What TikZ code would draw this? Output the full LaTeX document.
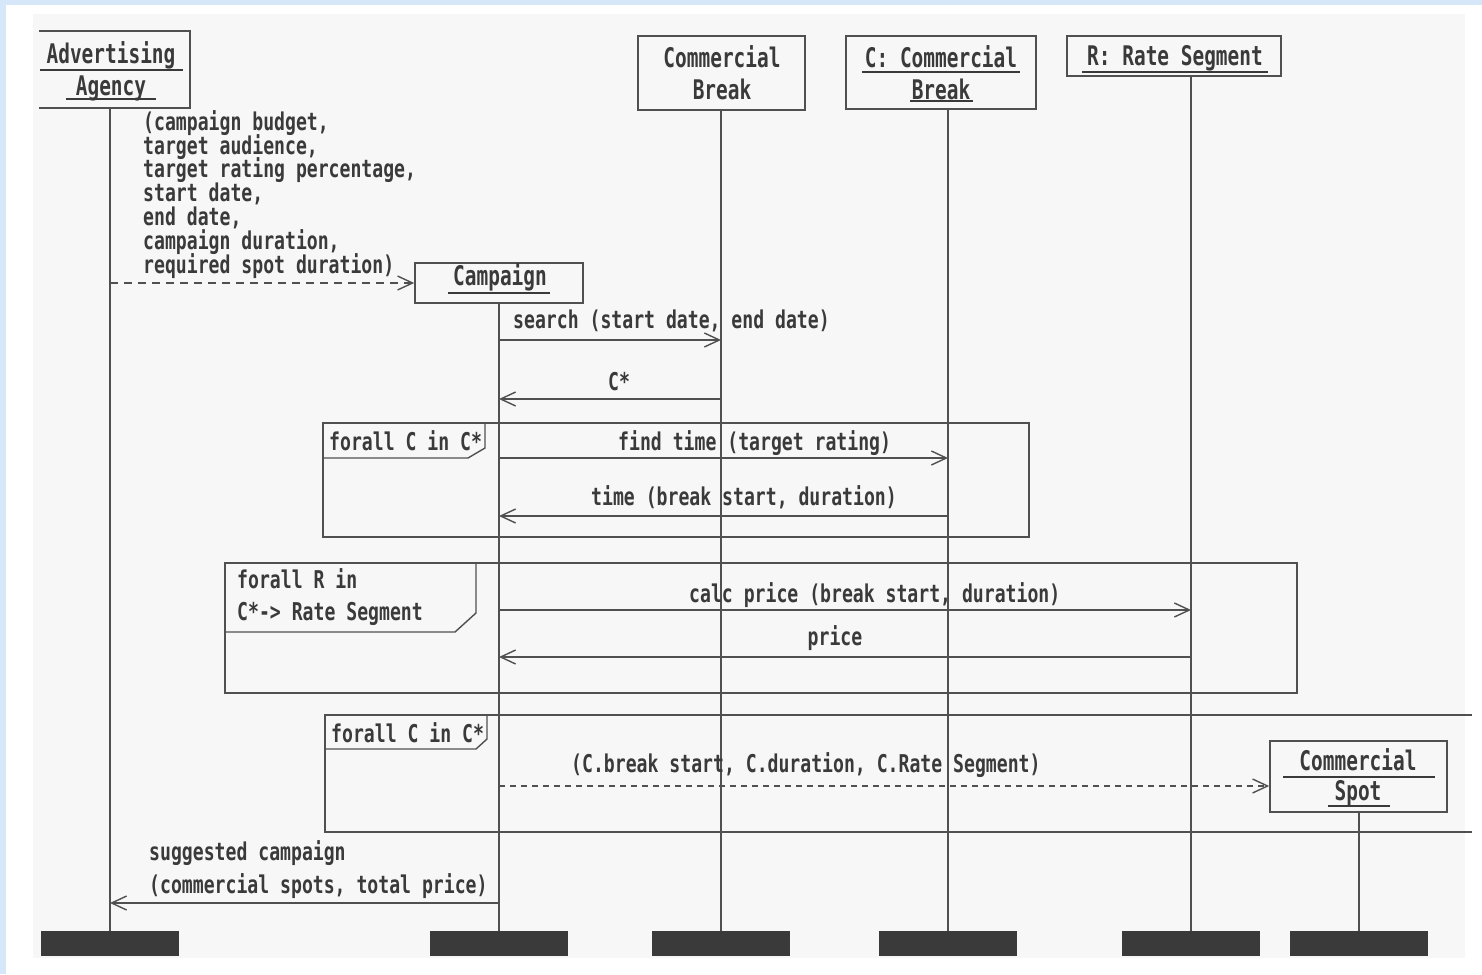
\documentclass[tikz,border=0pt]{standalone}
\usepackage{fontspec}
\setmainfont{DejaVu Sans Mono}
\newfontfamily\boxfont{DejaVu Sans Mono Bold}[FakeStretch=0.72]
\newfontfamily\msgfont{DejaVu Sans Mono Bold}[FakeStretch=0.74]
\usetikzlibrary{arrows.meta}

\definecolor{pageblue}{HTML}{D6E7FA}
\definecolor{panelgray}{HTML}{F7F7F7}
\definecolor{inkline}{HTML}{505050}
\definecolor{inktext}{HTML}{3A3A3A}
\definecolor{barfill}{HTML}{3A3A3A}

\tikzset{
  objbox/.style={draw=inkline, line width=1.6pt, inner sep=0pt},
  nametext/.style={font=\boxfont\fontsize{27}{32}\selectfont, text=inktext, inner sep=0pt, align=center},
  msgtext/.style={font=\msgfont\fontsize{24.5}{23.8}\selectfont, text=inktext, inner sep=0pt, align=left},
  lifeline/.style={draw=inkline, line width=1.3pt},
  msg/.style={draw=inkline, line width=1.4pt, -{Straight Barb[length=15pt,width=14pt,line width=1.4pt]}},
  async/.style={msg, dash pattern=on 8pt off 6pt},
  fineasync/.style={msg, dash pattern=on 6pt off 5pt},
  frame/.style={draw=inkline, line width=1.4pt},
  endbar/.style={fill=barfill, draw=none, minimum width=138pt, minimum height=25pt, inner sep=0pt},
  uline/.style={draw=inktext, line width=1.3pt},
}

\begin{document}
\setlength{\lineskiplimit}{-50pt}
\begin{tikzpicture}[x=1pt, y=-1pt]
  % page and panel
  \useasboundingbox (0,0) rectangle (1482,974);
  \fill[white] (0,0) rectangle (1482,974);
  \fill[pageblue] (0,0) rectangle (1482,5);
  \fill[pageblue] (0,0) rectangle (6,974);
  \fill[panelgray] (33,14) rectangle (1465,958);

  % object boxes
  \node[objbox, draw=none, minimum width=149pt, minimum height=75pt] (agency) at (114.5,69.5) {};
  \draw[objbox] (agency.north west) -- (agency.north east) -- (agency.south east) -- (agency.south west);
  \node[objbox, minimum width=168pt, minimum height=40pt] (campaign) at (499,283) {};
  \node[objbox, minimum width=167pt, minimum height=74pt] (cb) at (721.5,73) {};
  \node[objbox, minimum width=190pt, minimum height=73pt] (cbc) at (941,72.5) {};
  \node[objbox, minimum width=214pt, minimum height=40pt] (rate) at (1174,56) {};
  \node[objbox, minimum width=177pt, minimum height=71pt] (spot) at (1358.5,776.5) {};

  % object names
  \node[nametext, anchor=base] (agencyname) at (111,95) {Advertising\\Agency};
  \node[nametext, anchor=base] (campaignname) at (500,285) {Campaign};
  \node[nametext, anchor=base] (cbname) at (722,99) {Commercial\\Break};
  \node[nametext, anchor=base] (cbcname) at (941,99) {C: Commercial\\Break};
  \node[nametext, anchor=base] (ratename) at (1175,66) {R: Rate Segment};
  \node[nametext, font=\boxfont\fontsize{27}{30}\selectfont, anchor=base] (spotname) at (1358,800) {Commercial\\Spot};

  % underlines of instance names
  \draw[uline] (40,70) -- (183,70);
  \draw[uline] (66,99) -- (156,99);
  \draw[uline] (448,293) -- (550,293);
  \draw[uline] (862,72) -- (1020,72);
  \draw[uline] (910,101) -- (973,101);
  \draw[uline] (1082,72) -- (1268,72);
  \draw[uline] (1283,777) -- (1435,777);
  \draw[uline] (1328,806) -- (1390,806);

  % lifeline end bars
  \node[endbar] (barA) at (110,943.5) {};
  \node[endbar] (barB) at (499,943.5) {};
  \node[endbar] (barC) at (721,943.5) {};
  \node[endbar] (barD) at (948,943.5) {};
  \node[endbar] (barE) at (1191,943.5) {};
  \node[endbar] (barF) at (1359,943.5) {};

  % lifelines
  \draw[lifeline] (agency.south -| barA) -- (barA.north);
  \draw[lifeline] (campaign.south -| barB) -- (barB.north);
  \draw[lifeline] (cb.south -| barC) -- (barC.north);
  \draw[lifeline] (cbc.south -| barD) -- (barD.north);
  \draw[lifeline] (rate.south -| barE) -- (barE.north);
  \draw[lifeline] (spot.south -| barF) -- (barF.north);

  % combined fragments
  \draw[frame] (323,423) rectangle (1029,537);
  \draw[frame] (323,458) -- (468,458) -- (485,448) -- (485,423);
  \draw[frame] (225,563) rectangle (1297,693);
  \draw[frame] (225,632) -- (455,632) -- (476,613) -- (476,563);
  \draw[frame] (1472,715) -- (325,715) -- (325,832) -- (1472,832);
  \draw[frame] (325,749) -- (476,749) -- (487,739) -- (487,715);

  \node[msgtext, anchor=base west] (loop1) at (329,450) {forall C in C*};
  \node[msgtext, font=\msgfont\fontsize{24.5}{32}\selectfont, anchor=base west] (loop2) at (237,620) {forall R in\\C*-> Rate Segment};
  \node[msgtext, anchor=base west] (loop3) at (331,742) {forall C in C*};

  % message rows
  \coordinate (r1) at (0,283);
  \coordinate (r2) at (0,340);
  \coordinate (r3) at (0,399);
  \coordinate (r4) at (0,458);
  \coordinate (r5) at (0,516);
  \coordinate (r6) at (0,610);
  \coordinate (r7) at (0,657);
  \coordinate (r8) at (0,786);
  \coordinate (r9) at (0,903);

  % messages
  \draw[async] (r1 -| barA) -- (r1 -| campaign.west);
  \draw[msg] (r2 -| barB) -- (r2 -| barC);
  \draw[msg] (r3 -| barC) -- (r3 -| barB);
  \draw[msg] (r4 -| barB) -- (r4 -| barD);
  \draw[msg] (r5 -| barD) -- (r5 -| barB);
  \draw[msg] (r6 -| barB) -- (r6 -| barE);
  \draw[msg] (r7 -| barE) -- (r7 -| barB);
  \draw[fineasync] (r8 -| barB) -- (r8 -| spot.west);
  \draw[msg] (r9 -| barB) -- (r9 -| barA);

  % message labels
  \node[msgtext, anchor=base west] (createlabel) at (143,273)
    {(campaign budget,\\target audience,\\target rating percentage,\\start date,\\end date,\\campaign duration,\\required spot duration)};
  \node[msgtext, anchor=base west] (searchlabel) at (513,328) {search (start date, end date)};
  \node[msgtext, anchor=base] (clabel) at (619,390) {C*};
  \node[msgtext, anchor=base west] (findlabel) at (618,450) {find time (target rating)};
  \node[msgtext, anchor=base west] (timelabel) at (591,505) {time (break start, duration)};
  \node[msgtext, anchor=base west] (calclabel) at (689,602) {calc price (break start, duration)};
  \node[msgtext, anchor=base] (pricelabel) at (835,645) {price};
  \node[msgtext, anchor=base west] (spotlabel) at (571,772) {(C.break start, C.duration, C.Rate Segment)};
  \node[msgtext, font=\msgfont\fontsize{24.5}{33}\selectfont, anchor=base west] (resultlabel) at (149,893)
    {suggested campaign\\(commercial spots, total price)};
\end{tikzpicture}
\end{document}
